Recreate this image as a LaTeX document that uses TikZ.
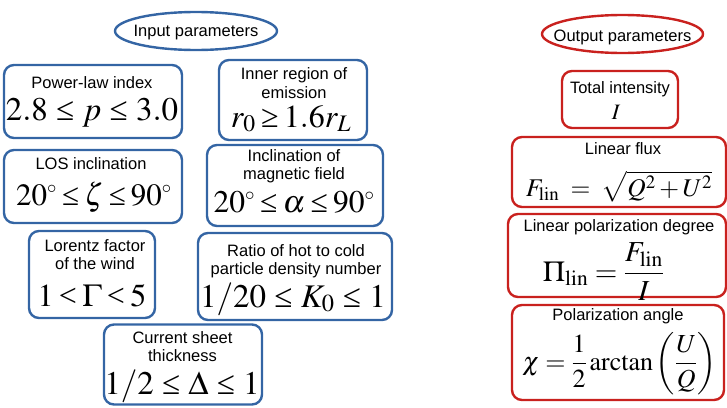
\documentclass[tikz,border=0pt]{standalone}
\usepackage{mathptmx}
\usepackage{fontspec}
\setmainfont{Liberation Serif}
\setsansfont{Liberation Sans}
\usetikzlibrary{shapes.geometric}
\definecolor{bblue}{HTML}{3465A4}
\definecolor{rred}{HTML}{C9211E}
\newcommand\twolines[2]{\begin{tabular}[t]{@{}c@{}}#1\\#2\end{tabular}}
\newcommand\myle{\mathrel{\textrm{≤}}}
\newcommand\myge{\mathrel{\textrm{≥}}}
\newcommand\mylt{\mathrel{\textrm{<}}}
\newcommand\mydeg{^{\scriptscriptstyle\circ}}
\newcommand\tightrel{\thickmuskip=3mu\relax}
\newcommand\looserel{\thickmuskip=4.5mu\relax}
\begin{document}
\begin{tikzpicture}[x=1pt,y=-1pt,
  inbox/.style={draw=bblue,line width=2.4pt,rounded corners=10pt,inner sep=0pt},
  outbox/.style={draw=rred,line width=2.4pt,rounded corners=10pt,inner sep=0pt},
  lbl/.style={font=\sffamily\fontsize{16.5}{18.5}\selectfont,anchor=base,inner sep=0pt},
  inmath/.style={font=\fontsize{#1}{36}\selectfont,anchor=base,inner sep=0pt},
  inmath/.default=33,
  outmath/.style={font=\fontsize{#1}{#1}\selectfont,anchor=base,inner sep=0pt},
  oval/.style={draw=#1,line width=2.4pt,ellipse,inner sep=0pt}]
\useasboundingbox (0,0) rectangle (727,407);

% ---------- input side ----------
\node[oval=bblue,minimum width=162pt,minimum height=38pt] (inell) at (196,31) {};
\node[lbl] (intxt) at (196,36.5) {Input parameters};

\node[inbox,minimum width=178pt,minimum height=73pt] (plbox) at (93,101.5) {};
\node[lbl] (pllbl) at (92,88) {Power-law index};
\node[inmath] (plmath) at (92,120) {$\looserel 2.8\myle p\myle 3.0$};

\node[inbox,minimum width=148pt,minimum height=80pt] (irbox) at (293,100) {};
\node[lbl] (irlbl) at (294,79.5) {\twolines{Inner region of}{emission}};
\node[inmath=32] (irmath) at (291,127) {$\tightrel r_0\myge 1.6r_L$};

\node[inbox,minimum width=178pt,minimum height=73pt] (losbox) at (93,186.5) {};
\node[lbl] (loslbl) at (91,169) {LOS inclination};
\node[inmath=31] (losmath) at (94,205) {$\tightrel 20\mydeg\myle\zeta\myle 90\mydeg$};

\node[inbox,minimum width=176pt,minimum height=81pt] (mfbox) at (295,185.5) {};
\node[lbl] (mflbl) at (294,161) {\twolines{Inclination of}{magnetic field}};
\node[inmath=31.5] (mfmath) at (294,212) {$\tightrel 20\mydeg\myle\alpha\myle 90\mydeg$};

\node[inbox,minimum width=126pt,minimum height=87pt] (lfbox) at (92,274.5) {};
\node[lbl] (lflbl) at (95,251) {\twolines{Lorentz factor}{of the wind}};
\node[inmath=32] (lfmath) at (92,306.5) {$\tightrel 1\mylt\Gamma\mylt 5$};

\node[inbox,minimum width=194pt,minimum height=87pt] (rtbox) at (295,276.5) {};
\node[lbl] (rtlbl) at (296,256) {\twolines{Ratio of hot to cold}{particle density number}};
\node[inmath] (rtmath) at (293,307) {$\looserel 1/20\myle K_0\myle 1$};

\node[inbox,minimum width=158pt,minimum height=80pt] (csbox) at (183,364.5) {};
\node[lbl] (cslbl) at (182.5,343) {\twolines{Current sheet}{thickness}};
\node[inmath] (csmath) at (182,394) {$\looserel 1/2\myle\Delta\myle 1$};

% ---------- output side ----------
\node[oval=rred,minimum width=161pt,minimum height=38pt] (outell) at (622.5,34) {};
\node[lbl] (outtxt) at (622.5,41) {Output parameters};

\node[outbox,minimum width=116pt,minimum height=57pt] (tibox) at (620,99.5) {};
\node[lbl] (tilbl) at (620,93) {Total intensity};
\node[outmath=22] (timath) at (616,119) {$I$};

\node[outbox,minimum width=214pt,minimum height=70pt] (lxbox) at (619,172) {};
\node[lbl] (lxlbl) at (623,154) {Linear flux};
\node[outmath=25.5] (lxmath) at (619,196) {$F_{\mathrm{lin}}\;=\;\sqrt{Q^2+U^2}$};

\node[outbox,minimum width=218pt,minimum height=83pt] (lpbox) at (617,255.5) {};
\node[lbl] (lplbl) at (619,231) {Linear polarization degree};
\node[outmath=29] (lpmath) at (603.5,281) {$\displaystyle\Pi_{\mathrm{lin}}=\frac{F_{\mathrm{lin}}}{I}$};

\node[outbox,minimum width=212pt,minimum height=95pt] (pabox) at (618,352.5) {};
\node[lbl] (palbl) at (618,320.5) {Polarization angle};
\node[outmath=26] (pamath) at (619.5,370) {$\displaystyle\chi=\frac{1}{2}\arctan\left(\frac{U}{Q}\right)$};
\end{tikzpicture}
\end{document}
